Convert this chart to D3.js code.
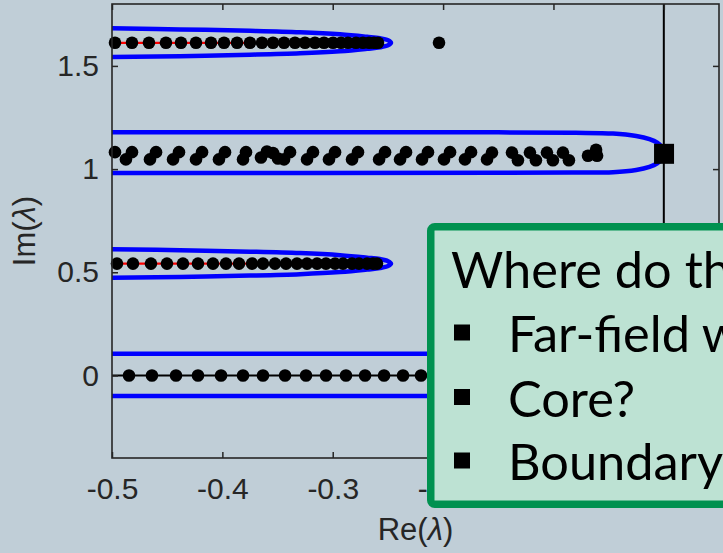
<!DOCTYPE html>
<html>
<head>
<meta charset="utf-8">
<script src="https://cdn.jsdelivr.net/npm/d3@7"></script>
<style>
  html, body { margin: 0; padding: 0; background: #c0ced7; overflow: hidden; }
  svg { display: block; }
</style>
</head>
<body>
<svg id="chart" width="723" height="553"></svg>
<script>
// ---- Eigenvalue data (complex plane: Re, Im) ----

// Branch near Im = 1.61 (joined by a red line)
const branchTopRe = [-0.4973, -0.4819, -0.4665, -0.4511, -0.4375, -0.4239, -0.4103, -0.3985,
  -0.3867, -0.3750, -0.3641, -0.3541, -0.3441, -0.3342, -0.3251, -0.3161, -0.3079, -0.2997,
  -0.2925, -0.2862, -0.2789, -0.2726, -0.2671, -0.2626, -0.2590];
const branchTopIm = 1.612;
const strayRe = [-0.2037];
const strayIm = [1.612];

// Scattered branch near Im = 1.07
const branchMidRe = [-0.4973,
  -0.4874, -0.4819, -0.4656, -0.4601, -0.4447, -0.4393, -0.4239, -0.4184, -0.4031, -0.3976,
  -0.3813, -0.3786, -0.3650, -0.3596, -0.3541, -0.3496,
  -0.3441, -0.3387, -0.3233, -0.3179, -0.3034, -0.2979, -0.2825, -0.2771, -0.2580, -0.2526,
  -0.2390, -0.2336, -0.2191, -0.2137, -0.1992, -0.1937, -0.1802, -0.1747, -0.1602, -0.1557,
  -0.1376, -0.1322, -0.1213, -0.1159, -0.1059, -0.1005, -0.0914, -0.0860,
  -0.0687, -0.0614, -0.0605];
const branchMidIm = [1.082,
  1.047, 1.082, 1.047, 1.082, 1.047, 1.082, 1.047, 1.082, 1.047, 1.082,
  1.047, 1.082, 1.056, 1.085, 1.078, 1.051,
  1.047, 1.082, 1.047, 1.082, 1.047, 1.082, 1.047, 1.082, 1.047, 1.082,
  1.047, 1.082, 1.047, 1.082, 1.047, 1.082, 1.047, 1.082, 1.047, 1.080,
  1.080, 1.043, 1.080, 1.043, 1.080, 1.043, 1.080, 1.043,
  1.065, 1.094, 1.065];

// Branch near Im = 0.54 (joined by a red line)
const branchLowRe = [-0.4955, -0.4810, -0.4647, -0.4502, -0.4357, -0.4221, -0.4085, -0.3967,
  -0.3849, -0.3731, -0.3632, -0.3523, -0.3423, -0.3324, -0.3233, -0.3142, -0.3061, -0.2979,
  -0.2907, -0.2825, -0.2762, -0.2689, -0.2635, -0.2599];
const branchLowIm = 0.542;

// Eigenvalues on the real axis
const realRe = [-0.4846, -0.4638, -0.4420, -0.4221, -0.4012, -0.3813, -0.3632, -0.3432,
  -0.3242, -0.3061, -0.2880, -0.2707, -0.2535, -0.2363, -0.2200, -0.2037, -0.1883, -0.1729];
const realIm = 0;

// Special eigenvalue (square marker)
const squareRe = [0.0002];
const squareIm = [1.074];

// ---- Contours (blue) ----
const contourTopRe    = [-0.52, -0.5000, -0.4384, -0.3750, -0.3297, -0.2934, -0.2689, -0.2572, -0.2499, -0.2472];
const contourTopUpper = [1.682, 1.682, 1.677, 1.670, 1.663, 1.653, 1.641, 1.634, 1.624, 1.612];
const contourTopLower = [1.543, 1.543, 1.547, 1.554, 1.561, 1.571, 1.583, 1.590, 1.600, 1.612];

const contourMidRe    = [-0.52, -0.1500, -0.0800, -0.0460, -0.0250, -0.0130, -0.0060, -0.0015, 0.0005];
const contourMidUpper = [1.179, 1.178, 1.176, 1.172, 1.160, 1.145, 1.128, 1.105, 1.078];
const contourMidLower = [0.981, 0.982, 0.983, 0.985, 0.996, 1.011, 1.028, 1.051, 1.078];

const contourLowRe    = [-0.52, -0.5000, -0.4384, -0.3750, -0.3297, -0.2934, -0.2689, -0.2572, -0.2499, -0.2472];
const contourLowUpper = [0.612, 0.612, 0.607, 0.600, 0.593, 0.583, 0.571, 0.564, 0.554, 0.542];
const contourLowLower = [0.473, 0.473, 0.477, 0.484, 0.491, 0.501, 0.513, 0.520, 0.530, 0.542];

const stripRe = [-0.52, 0];
const stripUpper = [0.105, 0.105];
const stripLower = [-0.100, -0.100];

// ---- Axes ----
const xTicks = [-0.5, -0.4, -0.3, -0.2, -0.1, 0];
const xTickLabels = ["-0.5", "-0.4", "-0.3", "-0.2", "-0.1", "0"];
const yTicks = [0, 0.5, 1, 1.5];
const yTickLabels = ["0", "0.5", "1", "1.5"];
const xDomain = [-0.5, 0.05];
const yDomain = [-0.4, 1.8];

// ---- Callout text ----
const calloutTitle = "Where do they come from?";
const calloutItems = ["Far-field waves?", "Core?", "Boundary?"];

// ---------------------------------------------------------------
const svg = d3.select("#chart");
const plot = { left: 112, right: 719, top: 4, bottom: 458 };

const x = d3.scaleLinear().domain(xDomain).range([plot.left, plot.right]);
const y = d3.scaleLinear().domain(yDomain).range([plot.bottom, plot.top]);

const axisColor = "#262626";
const labelFont = "'Liberation Sans', Arial, Helvetica, sans-serif";

svg.append("rect").attr("width", 723).attr("height", 553).attr("fill", "#c0ced7");

svg.append("defs").append("clipPath").attr("id", "plotClip")
  .append("rect")
  .attr("x", plot.left).attr("y", plot.top)
  .attr("width", plot.right - plot.left).attr("height", plot.bottom - plot.top);

const lines = svg.append("g").attr("clip-path", "url(#plotClip)");

// closed contour: upper edge left->right, lower edge right->left
function closedContour(re, up, lo) {
  const pts = re.map((r, i) => [x(r), y(up[i])]);
  const back = re.slice(0, -1).map((r, i) => [x(r), y(lo[i])]).reverse();
  return pts.concat(back);
}
const smooth = d3.line().curve(d3.curveCatmullRom.alpha(0.5));

[[contourTopRe, contourTopUpper, contourTopLower],
 [contourMidRe, contourMidUpper, contourMidLower],
 [contourLowRe, contourLowUpper, contourLowLower]].forEach(([re, up, lo]) => {
  lines.append("path")
    .attr("d", smooth(closedContour(re, up, lo)))
    .attr("fill", "none")
    .attr("stroke", "#0000ff")
    .attr("stroke-width", 4.5)
    .attr("stroke-linejoin", "round");
});

[stripUpper, stripLower].forEach(im => {
  lines.append("path")
    .attr("d", d3.line()(stripRe.map((r, i) => [x(r), y(im[i])])))
    .attr("fill", "none").attr("stroke", "#0000ff").attr("stroke-width", 4.5);
});

// red joins on the two tapered branches
const straight = d3.line();
[[branchTopRe, branchTopIm], [branchLowRe, branchLowIm]].forEach(([re, im]) => {
  lines.append("path")
    .attr("d", straight(re.map(r => [x(r), y(im)])))
    .attr("fill", "none").attr("stroke", "#ff0000").attr("stroke-width", 2.2);
});

// black line along the real axis
lines.append("path")
  .attr("d", straight([[x(-0.52), y(realIm)], [x(0), y(realIm)]]))
  .attr("fill", "none").attr("stroke", "#000").attr("stroke-width", 2);

// imaginary axis Re = 0
svg.append("line")
  .attr("x1", x(0)).attr("x2", x(0))
  .attr("y1", plot.top).attr("y2", plot.bottom)
  .attr("stroke", "#000").attr("stroke-width", 2);

// eigenvalue dots
const dotR = 6.3;
const dots = svg.append("g").attr("fill", "#000");
function addDots(re, im) {
  dots.selectAll(null)
    .data(re.map((r, i) => [r, Array.isArray(im) ? im[i] : im]))
    .join("circle")
    .attr("cx", d => x(d[0])).attr("cy", d => y(d[1])).attr("r", dotR);
}
addDots(branchTopRe, branchTopIm);
addDots(strayRe, strayIm);
addDots(branchMidRe, branchMidIm);
addDots(branchLowRe, branchLowIm);
addDots(realRe, realIm);

// square marker
const sq = 20;
svg.append("g").selectAll("rect")
  .data(squareRe.map((r, i) => [r, squareIm[i]]))
  .join("rect")
  .attr("x", d => x(d[0]) - sq / 2).attr("y", d => y(d[1]) - sq / 2)
  .attr("width", sq).attr("height", sq).attr("fill", "#000");

// ---- axes with inward ticks on all four sides ----
const tickLen = 6;
const fmtX = d => xTickLabels[xTicks.indexOf(d)];
const fmtY = d => yTickLabels[yTicks.indexOf(d)];

const gx = svg.append("g").attr("transform", `translate(0,${plot.bottom})`)
  .call(d3.axisBottom(x).tickValues(xTicks).tickFormat(fmtX)
    .tickSizeInner(-tickLen).tickSizeOuter(0).tickPadding(20));
const gy = svg.append("g").attr("transform", `translate(${plot.left},0)`)
  .call(d3.axisLeft(y).tickValues(yTicks).tickFormat(fmtY)
    .tickSizeInner(-tickLen).tickSizeOuter(0).tickPadding(13));
const gt = svg.append("g").attr("transform", `translate(0,${plot.top})`)
  .call(d3.axisTop(x).tickValues(xTicks).tickFormat("")
    .tickSizeInner(-tickLen).tickSizeOuter(0));
const gr = svg.append("g").attr("transform", `translate(${plot.right},0)`)
  .call(d3.axisRight(y).tickValues(yTicks).tickFormat("")
    .tickSizeInner(-tickLen).tickSizeOuter(0));

[gx, gy, gt, gr].forEach(g => {
  g.select(".domain").remove();
  g.selectAll(".tick line").attr("stroke", axisColor).attr("stroke-width", 1.5);
  g.selectAll(".tick text")
    .attr("fill", axisColor)
    .style("font-family", labelFont)
    .style("font-size", "30px");
});

svg.append("rect")
  .attr("x", plot.left).attr("y", plot.top)
  .attr("width", plot.right - plot.left).attr("height", plot.bottom - plot.top)
  .attr("fill", "none").attr("stroke", axisColor).attr("stroke-width", 1.6);

// axis titles
const xTitle = svg.append("text")
  .attr("x", (plot.left + plot.right) / 2).attr("y", 540)
  .attr("text-anchor", "middle").attr("fill", axisColor)
  .style("font-family", labelFont).style("font-size", "31px");
xTitle.append("tspan").text("Re(");
xTitle.append("tspan").style("font-style", "italic").text("λ");
xTitle.append("tspan").text(")");

const yTitle = svg.append("text")
  .attr("transform", `translate(35,${(plot.top + plot.bottom) / 2}) rotate(-90)`)
  .attr("text-anchor", "middle").attr("fill", axisColor)
  .style("font-family", labelFont).style("font-size", "31px");
yTitle.append("tspan").text("Im(");
yTitle.append("tspan").style("font-style", "italic").text("λ");
yTitle.append("tspan").text(")");

// ---- callout box ----
const box = svg.append("g");
const bw = 7.5;
box.append("rect")
  .attr("x", 427 + bw / 2).attr("y", 223 + bw / 2)
  .attr("width", 340).attr("height", 508 - 223 - bw)
  .attr("rx", 4).attr("ry", 4)
  .attr("fill", "#bde2d3").attr("stroke", "#009150").attr("stroke-width", bw);

const calloutFont = "Lato, 'Open Sans', sans-serif";
const calloutSize = "50.5px";
box.append("text")
  .attr("x", 451).attr("y", 288)
  .attr("fill", "#000")
  .style("font-family", calloutFont).style("font-size", calloutSize)
  .text(calloutTitle);

const baselines = [352, 416.5, 480];
calloutItems.forEach((t, i) => {
  box.append("rect")
    .attr("x", 454).attr("y", baselines[i] - 27.5)
    .attr("width", 16).attr("height", 16).attr("fill", "#000");
  box.append("text")
    .attr("x", 508).attr("y", baselines[i])
    .attr("fill", "#000")
    .style("font-family", calloutFont).style("font-size", calloutSize)
    .text(t);
});
</script>
</body>
</html>
